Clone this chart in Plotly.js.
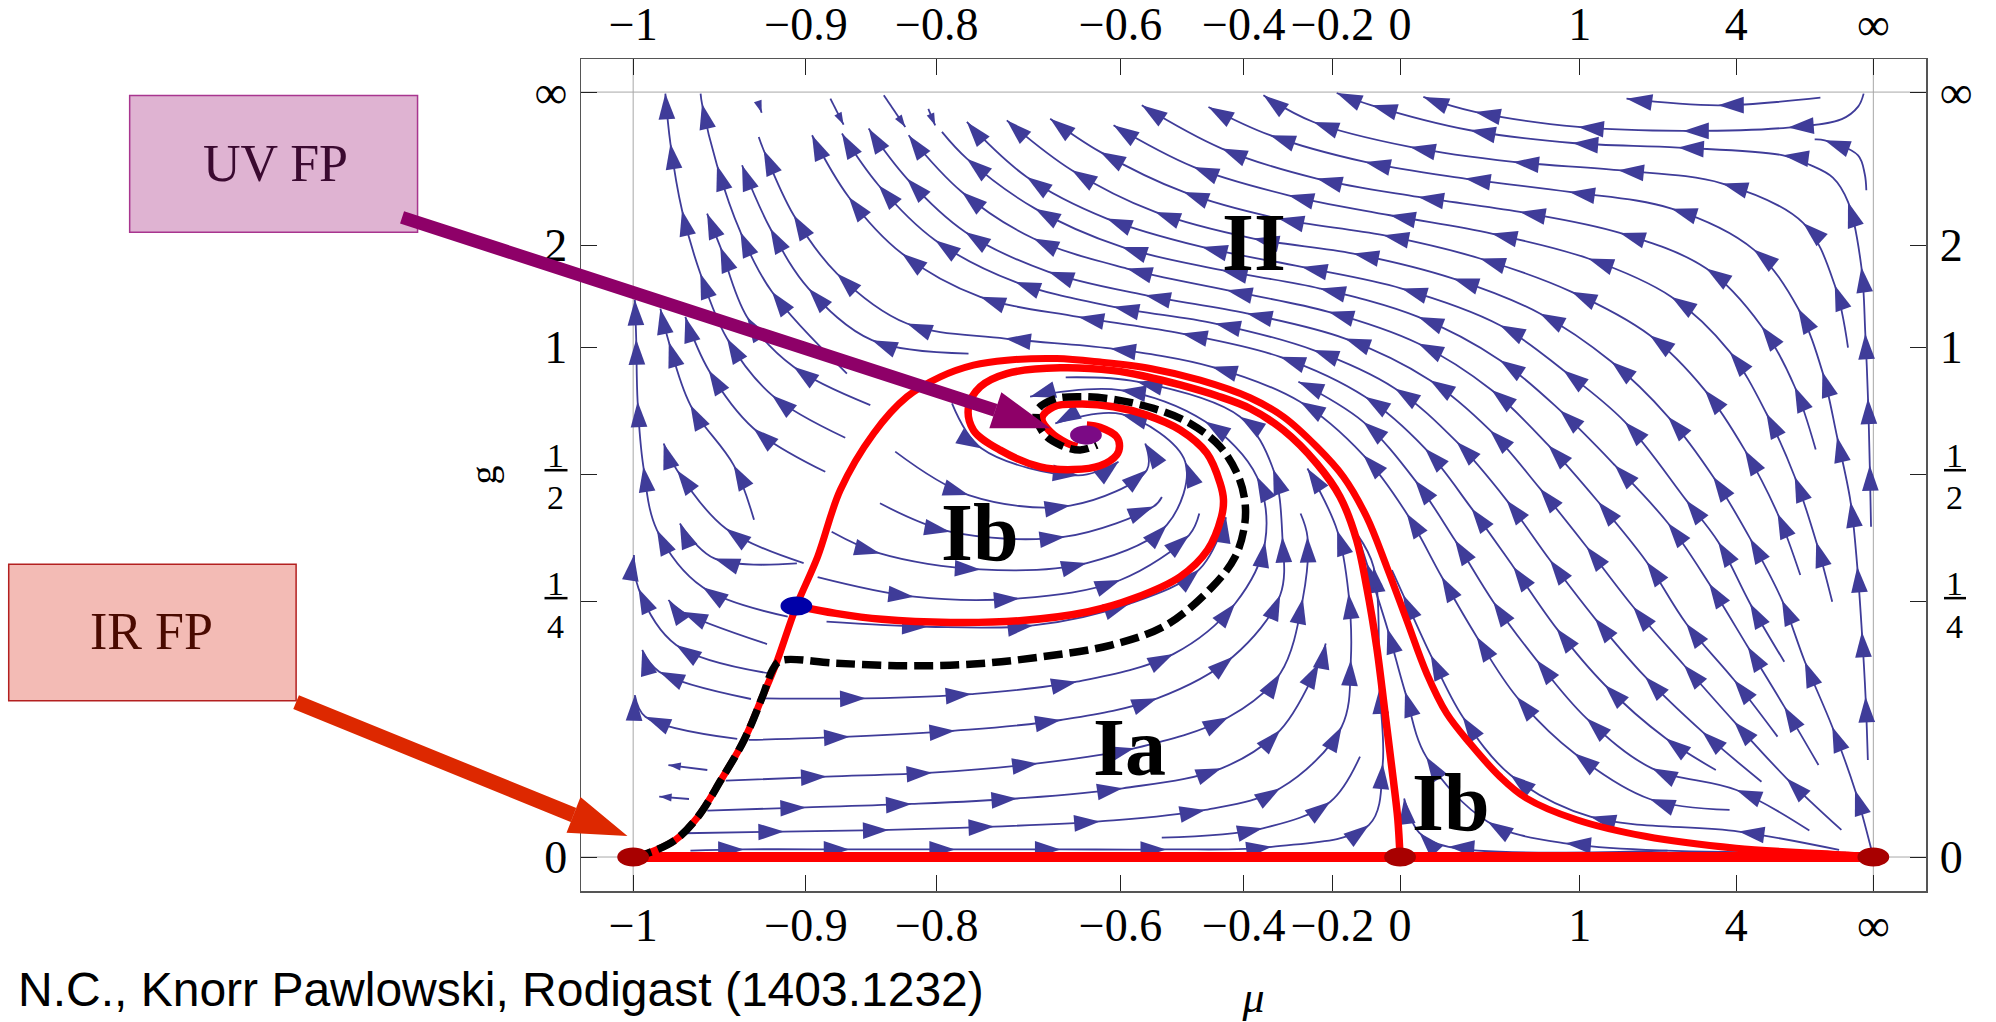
<!DOCTYPE html>
<html><head><meta charset="utf-8">
<script src="https://cdn.plot.ly/plotly-3.0.1.min.js"></script>
<style>html,body{margin:0;padding:0;background:#fff}</style></head>
<body><div id="chart" style="width:1996px;height:1022px"></div>
<script>
// Axes are compactified: X runs 0 (mu=-1) .. 974.8 (mu=inf), Y runs 0 (g=0) .. 601.2 (g=inf)
const xTickVals=[0,135.8,238.7,383,480,549.7,602.8,744,867,974.8];
const xTickText=['−1','−0.9','−0.8','−0.6','−0.4','−0.2','0','1','4','∞'];
const yTickVals=[0,200.6,300.6,400.6,480.8,601.2];
const yTickText=['0','','','1','2','∞'];
const _=null; // the point that follows carries no arrowhead

const leftFlows=[
[81.8,92.8,9.6,110.3,1.3,127.3],
[92.6,124.2,20.5,145.6,7.1,162.7],
[107,144.3,33.8,166.6,4.2,211.1,0.6,237.3],
[105.2,167.4,38.5,192.8,27.7,202],
[121.5,189,54.7,212,18.7,257,8,307,3.5,358,2.4,407,1.3,438],
[128.7,230.8,63.8,234.7,36.7,262.2],
[134,231,72.8,258.2,34.5,304,24,325],
[95,265,79,308,45,355.2,28,404.9,21.4,431],
[151,302.8,94.7,336.8,59.4,382.6,41,424.5],
[166.7,329.5,109.1,363,73.8,407.5,52.8,458.6,38.4,508.3,29.3,560.7,25.3,600],
[186.4,355.2,126.1,385.3,89.5,424.5,68.5,479.5,58.1,505.7],
[168,380,109.1,444.2,84.3,491.3,65.9,543.7,54.1,592.1,_,53,600],
[263.6,395.7,187.7,406.2,137.9,446.8,107.8,494,85.6,543.7]
];
const shortFlows=[
[58.3,68.4,27.7,72.3],[43.9,45.6,20.5,47.5],
[155,596,165.4,575.6],[197,598.7,213.9,573.8],[232,588,237.4,575],[99,591,101,585]
];
const spiralFlows=[
[152,185,231.5,181,314.5,182,390,199,445,226,466,267],
[145,220,220.7,204.6,303.7,203.3,383,217.7,437,253,_,445,270],
[156,255.6,194,238.6,273,226,356.6,231,419.5,261,433.9,310.7,384,348,331.8,340.8],
[194,278,249,255.7,339.6,251.8,409,275.4,_,415.6,283],
[206,318.6,263.7,284.5,343.6,276.2,403.8,304.2,402.5,325],
[250.6,356.6,274,321,350,300,381.5,310.7]
];
const lowerFlows=[
[103.4,124.7,182.8,124.7,265.8,128.1,348.7,137.8,424.5,159.5,473.2,199.3,496.7,247.8,490.2,299,449.6,342.2,382.8,367,312,361.8],
[90.8,92,170.2,94.6,253.1,99.3,336.1,107.7,411.9,124.7,471.4,157.4,508.6,205.9,510.3,251.7,503,305,477,346,396,373.6,_,340,377],
[72.8,60,152.1,63.2,235.1,66.3,318.1,73.6,393.8,85.4,467.8,109.8,508.6,144.3,526.4,203.3,530,251.7,_,524.6,270],
[58.3,36.5,135.9,39,218.9,41.7,301.8,46,384.8,54,462.4,69.7,508.6,99.8,539,152.2,544.4,167.9],
[40.3,18.7,118.6,20,200.8,21.3,283.8,23.9,366.8,28,449.7,37,508.6,54,556.9,102.4,564.1,154.8,562.3,207.2,553.3,256.9,530,305.4],
[415.5,15.2,494.9,22.6,548,43.5,_,571.3,78.9],
[45,5,87,6,170,6,253,6,336,6,419,6,502,8,578.4,25.2,589.2,73.6,586.7,132.6,582,228,_,569.5,253]
];
const rightFlows=[
[953.3,3.5,732.7,10.8,671.7,27.8,623.3,78.9,606.7,130,592.8,179.7,576.6,230.8,_,569.5,253],
[813,5,641,8,618,19,606,46],
[947.9,5.6,869,20,752.4,31.7,689.6,64.5,652,110.3,626.9,158.7,605.3,205.9,_,596.4,225.5]
];
const upperFlowsA=[
[861.8,37,799,45.6,739.8,81.5,694.4,126,663,173.2,635.5,220.3,608,270,573.9,315.9,524.2,357.8,454.8,385.3,375,399.7,292.4,407.5,215.2,419.3,160.2,458.6,126.2,504.4,102.6,555.5,_,98.7,565.9],
[924.5,20.8,867.2,52.7,800.8,69.7,749.4,109,710.1,154.8,676,200.7,645.9,249.1,614.5,296.2,573.9,342,522.9,373.5],
[851,68.4,811.6,93.3,763.8,135.2,725.8,179.7,691.8,228.2,659,274,622.4,321.1,575.3,361.7,508.5,393.1,431.3,411.4,350,424.5,272.8,440.3,211.3,474.3,169.4,518.8,140.6,567.3],
[886.9,59.2,840.3,98.5,795.4,141.7,755.9,187.6,720.6,233.4,686.5,280.5,647.2,326.4,598.8,368.3,534.7,398.4,457.4,419.3,377.6,432.4,300.3,452,237.4,484.8,192.9,528,164.1,568.6],
[949.7,21.3,906.6,61.9,865.4,106.4,825.9,150.9,786,196.7,749.4,243.9,712.7,289.7,673.4,335.5,626.3,374.8,559.6,407.5,482.3,427.2,402.4,441.6,326.5,459.9,261,491.3,215.2,533.2,185.1,572.5],
[899.5,94.6,865.4,139.1,827.7,183.6,796.5,232.1,758.5,279.2,719.3,323.7,674.7,367,617.1,403.6,546.5,428.5,466.6,445.5,388,462.5,314.7,486.1,258.4,522.7,216.5,567.3]
];
const upperFlowsB=[
[931.7,72.3,904.8,118.2,876.1,165.3,845.7,215,813.3,262.5,771.6,308,728.4,351.2,681.3,390.5,617.1,424.5,539.9,446.8,462.7,461.2,384.1,479.5,316,509.6,262.3,548.9,_,242.7,569.9],
[904.8,153.5,877.9,199.3,852.8,247.8,827.7,280.5,779.5,342,731.1,382.6,681.3,418,604.1,446.8,525.5,463.8,447,479.5,372.3,501.8,309.4,534.5,262.3,577.7],
[973,6.9,960.4,52.7,942.5,102.4,921,153.5,903,201.9,877.9,250.4,848.9,298.9,813.5,346,769,389.2,712.7,427.2,644.7,454.6,566.1,474.3,487.6,486.1,410.3,507,344.8,539.8,293.7,579],
[917.4,221.6,899.5,270,873.8,319.8,842.3,367,799.1,410.1,737.6,444.2,665.6,470.4,589.7,488.7,507.2,501.8,432.6,522.7,367.1,554.2,327.8,580.3],
[942.5,200.6,929.9,247.8,913,298.9,890.8,348.6,862,397,816.2,440.2,750.7,470.4,674.8,490,594.9,504.4,515,520.1,440.4,542.4,377.6,575.1],
[929.5,320.3,913,369.6,886.9,417.2,843.6,462.5,775.6,490.5,697,507,617.1,518.8,537.3,533.2,462.7,556.8,399.8,590.8],
[970.5,76.2,968.7,126,965.8,177.1,962.2,228.1,956.9,279.2,946.3,330.3,934.8,381.3,915.7,431.1,880.8,477.4,816.2,509.6,735.8,522.7,653.8,533.2,575.3,546.3,500.6,567.3,452.2,589.5],
[954.9,400.4,944.5,449.4,919.6,498.4,856.2,529.3,774.3,539.8,691.8,546.3,610.6,558.1,534.7,577.7,495.4,598.7],
[973,259.5,972,308,970.6,360.4,968.5,411.4,965.4,463.8,954.9,514.9,_,943,534,_,925,544,903.9,551.5,821.4,557.6,738.4,561.2,657.8,571.2,580.5,590.8,553,600.5],
[933.2,596.8,852.8,590.8,780.8,596],
[967.2,600,_,963,590,_,950,580,907.8,573.3,825.3,570.7,742.8,573.8,661.7,585.6,621.1,597.4],
[969.3,524,_,968,537,_,962.8,551.5,936.6,563.3,_,928.7,564]
];

const redBottom=[0,0,974.8,0];
const redOuter=[0,0,11.4,3,33,13.3,51,31.8,69,60.5,87.2,92,101.6,126,112.5,152.3,128.3,197.3,145,236,162.8,288.4,189,332.9,215.2,361.7,241.4,377.4,267.5,386.6,293.7,390.5,333,391.8,367.1,389,406.4,384,445.7,374.8,484.9,361,511.1,346,537.3,322.4,558.2,298.9,576.5,267.4,592.3,228.2,608,186.3,623.7,144.4,639.4,113,657.7,89.4,681.3,63.2,702,46.3,741.6,29.3,795.4,16.3,867,6.9,956.8,1.5,974.8,0];
const redInner=[602.8,0,601,30,597.5,60.6,591,113,584.4,165.3,576.5,212.5,568.7,249.1,555.6,283.2,537.3,309.3,511.1,335.5,484.9,352.5,458.8,362.5,430,371,403.8,377.5,377.6,382.3,335.7,384.5,293.7,380,272.8,369.6,263.6,353.8,267.5,335.5,288.5,319.8,319.9,306.7,346,304.5,367,307.5,380,316,382.3,323,380,330.3,367,337.7,356.6,339.5];
const redSpiral=[128.3,197.3,159.3,191.5,195.4,186.8,249.5,184.3,303.6,185.7,357.8,192.8,393.8,203.3,430,220.3,451.5,241.3,462.4,267.3,464,280.6,461.4,293.7,451,317.3,430,335.6,403.8,347.3,377.6,353.9,351.4,356,330.5,353.9,321.3,344.8,327.8,334.3,341,325.3,349,322.5];
const blackDashed=[0,0,11.4,3,33,13.3,51,31.8,69,60.5,87.2,92,101.6,126,110,148,116,154.3,159.3,152.3,213.5,150.3,267.6,151.7,321.7,157.4,375.8,166.6,419,182.3,455.2,212.3,473.2,236,480.4,259.6,481,278,475.8,298.9,461.4,322.5,437.8,340.8,409,352.6,377.6,359.7,351.4,361.8,330.5,359.7,317,350,322.6,333,335.7,323.8,351.4,319.9,364.5,323.8];

const fixedPoints=[[0,0,'#a80000'],[602.8,0,'#a80000'],[974.8,0,'#a80000'],[355.9,331.6,'#7b0a85'],[128.3,197.3,'#0000a8']];
const regionLabels=[['II',488,483],['Ib',273,255],['Ia',390,86],['Ib',643,43]];

const FLOW='#3f3c99';
const xRange=[-41,1016.2], yRange=[-26.7,627.2];
const traces=[];
function xs(a){return a.filter((_v,i)=>i%2===0)} function ys(a){return a.filter((_v,i)=>i%2===1)}
function unit(dx,dy){const n=Math.hypot(dx,dy)||1;return [dx/n,dy/n]}
function addFlow(raw,size){
  const x=[],y=[],plain=[];let skip=false;
  for(let i=0;i<raw.length;){
    if(raw[i]===null){skip=true;i++;continue;}
    x.push(raw[i]);y.push(raw[i+1]);plain.push(skip);skip=false;i+=2;
  }
  const n=x.length,ang=[],sz=[];
  for(let i=0;i<n;i++){
    let t;
    if(i===0){t=unit(x[1]-x[0],y[1]-y[0]);}
    else if(i<n-1){t=unit(x[i+1]-x[i-1],y[i+1]-y[i-1]);}
    else if(n>2){const c=unit(x[i]-x[i-1],y[i]-y[i-1]),p=unit(x[i]-x[i-2],y[i]-y[i-2]);t=unit(2*c[0]-p[0],2*c[1]-p[1]);}
    else {t=unit(x[i]-x[i-1],y[i]-y[i-1]);}
    ang.push(Math.atan2(t[0],t[1])*180/Math.PI);
    sz.push(i===0||plain[i]?0:size);
  }
  traces.push({type:'scatter',mode:'lines+markers',x,y,hoverinfo:'skip',showlegend:false,cliponaxis:false,
    line:{color:FLOW,width:1.8,shape:'spline',smoothing:1,simplify:false},
    marker:{symbol:'arrow',size:sz,angle:ang,color:FLOW,opacity:1,line:{width:0}}});
}
[leftFlows,spiralFlows,lowerFlows,rightFlows,upperFlowsA,upperFlowsB].forEach(g=>g.forEach(a=>addFlow(a,27)));
shortFlows.forEach(a=>addFlow(a,13));
function addCurve(a,color,width,dash,smooth){
  traces.push({type:'scatter',mode:'lines',x:xs(a),y:ys(a),hoverinfo:'skip',showlegend:false,
    line:{color,width,dash:dash||'solid',shape:smooth?'spline':'linear',smoothing:1,simplify:false}});
}
addCurve(redBottom,'#ff0000',10);
addCurve(redOuter,'#ff0000',7,null,true);
addCurve(redInner,'#ff0000',7.5,null,true);
addCurve(redSpiral,'#ff0000',7.5,null,true);
addCurve(blackDashed,'#000000',7.5,'19px,7px',true);
traces.push({type:'scatter',mode:'none',x:[0],y:[0],xaxis:'x2',yaxis:'y2',hoverinfo:'skip',showlegend:false});

// helpers placing decorations given in page position
const L=580.5,R=1926,T=58.6,B=891;
const px=v=>(v-L)/(R-L), py=v=>(B-v)/(B-T);
function poly(pts,fill){return {type:'path',xref:'paper',yref:'paper',layer:'above',fillcolor:fill,line:{width:0},
  path:pts.map((p,i)=>(i?'L':'M')+px(p[0])+','+py(p[1])).join(' ')+' Z'};}
function arrow(x0,y0,hx,hy,w,c1,c2,tip,fill){
  const u=unit(hx-x0,hy-y0),n=[-u[1]*w/2,u[0]*w/2];
  return poly([[x0+n[0],y0+n[1]],[hx+n[0],hy+n[1]],c1,tip,c2,[hx-n[0],hy-n[1]],[x0-n[0],y0-n[1]]],fill);
}
function box(x0,y0,x1,y1,fill,line){return {type:'rect',xref:'paper',yref:'paper',layer:'above',x0:px(x0),x1:px(x1),y0:py(y0),y1:py(y1),fillcolor:fill,line:{color:line,width:1.5}};}
function txt(text,x,y,size,family,color,extra){return Object.assign({text,xref:'paper',yref:'paper',x:px(x),y:py(y),showarrow:false,xanchor:'center',yanchor:'middle',font:{size,family,color}},extra||{});}

const shapes=[];
[0,974.8].forEach(v=>shapes.push({type:'line',layer:'below',xref:'x',yref:'paper',x0:v,x1:v,y0:0,y1:1,line:{color:'#a8a8a8',width:1}}));
[0,601.2].forEach(v=>shapes.push({type:'line',layer:'below',xref:'paper',yref:'y',x0:0,x1:1,y0:v,y1:v,line:{color:'#a8a8a8',width:1}}));
fixedPoints.forEach(p=>shapes.push({type:'circle',xref:'x',yref:'y',layer:'above',x0:p[0]-12.5,x1:p[0]+12.5,y0:p[1]-7.5,y1:p[1]+7.5,fillcolor:p[2],line:{width:0}}));
shapes.push(box(129,95,417,232,'#dfb3d2','#a8358f'));
shapes.push(box(8,564,295.5,700.7,'#f3bbb5','#b32020'));
shapes.push(arrow(401.5,217,995,410,13,[1001,392],[989,428],[1050,428],'#8e0068'));
shapes.push(arrow(295.5,702,573,815,15,[580,797],[566,832.7],[627,836],'#dd2800'));
[[544,567],[1944,1966]].forEach(b=>[470,598].forEach(y=>shapes.push({type:'line',xref:'paper',yref:'paper',layer:'above',x0:px(b[0]),x1:px(b[1]),y0:py(y),y1:py(y),line:{color:'#000',width:2.5}})));

const SERIF='"Liberation Serif","Times New Roman",serif';
const annotations=regionLabels.map(r=>({text:'<b>'+r[0]+'</b>',x:r[1],y:r[2],xref:'x',yref:'y',showarrow:false,font:{size:82,family:SERIF,color:'#000'}}));
annotations.push(txt('UV FP',275,163,52,SERIF,'#3a0a30'));
annotations.push(txt('IR FP',151,631,52,SERIF,'#4a0a00'));
annotations.push(txt('N.C., Knorr Pawlowski, Rodigast (1403.1232)',15,990,48,'"Liberation Sans",Arial,sans-serif','#000',{xanchor:'left'}));
[555,1955].forEach(x=>{
  annotations.push(txt('1',x,455,34,SERIF,'#000'));annotations.push(txt('2',x,497,34,SERIF,'#000'));
  annotations.push(txt('1',x,583,34,SERIF,'#000'));annotations.push(txt('4',x,626,34,SERIF,'#000'));
});

const tickFont={size:46,family:SERIF,color:'#000'};
function axisBase(vals,text,standoff){return {tickmode:'array',tickvals:vals,ticktext:text,ticks:'inside',ticklen:16,tickwidth:1,tickcolor:'#222',
  showgrid:false,zeroline:false,showline:true,linecolor:'#555',linewidth:1.5,tickfont:tickFont,ticklabelstandoff:standoff,fixedrange:true};}
const layout={width:1996,height:1022,margin:{l:L,r:1996-R,t:T,b:1022-B,pad:0},paper_bgcolor:'#fff',plot_bgcolor:'#fff',showlegend:false,
  xaxis:Object.assign(axisBase(xTickVals,xTickText,-7),{range:xRange,title:{text:'<i>μ</i>',font:{size:44,family:SERIF,color:'#000'},standoff:49}}),
  yaxis:Object.assign(axisBase(yTickVals,yTickText,3),{range:yRange,title:{text:'g',font:{size:38,family:SERIF,color:'#000'},standoff:26}}),
  xaxis2:Object.assign(axisBase(xTickVals,xTickText,-1),{range:xRange,overlaying:'x',side:'top',anchor:'y2'}),
  yaxis2:Object.assign(axisBase(yTickVals,yTickText,3),{range:yRange,overlaying:'y',side:'right',anchor:'x2'}),
  shapes,annotations};
Plotly.newPlot('chart',traces,layout,{staticPlot:true,displayModeBar:false});
</script></body></html>
